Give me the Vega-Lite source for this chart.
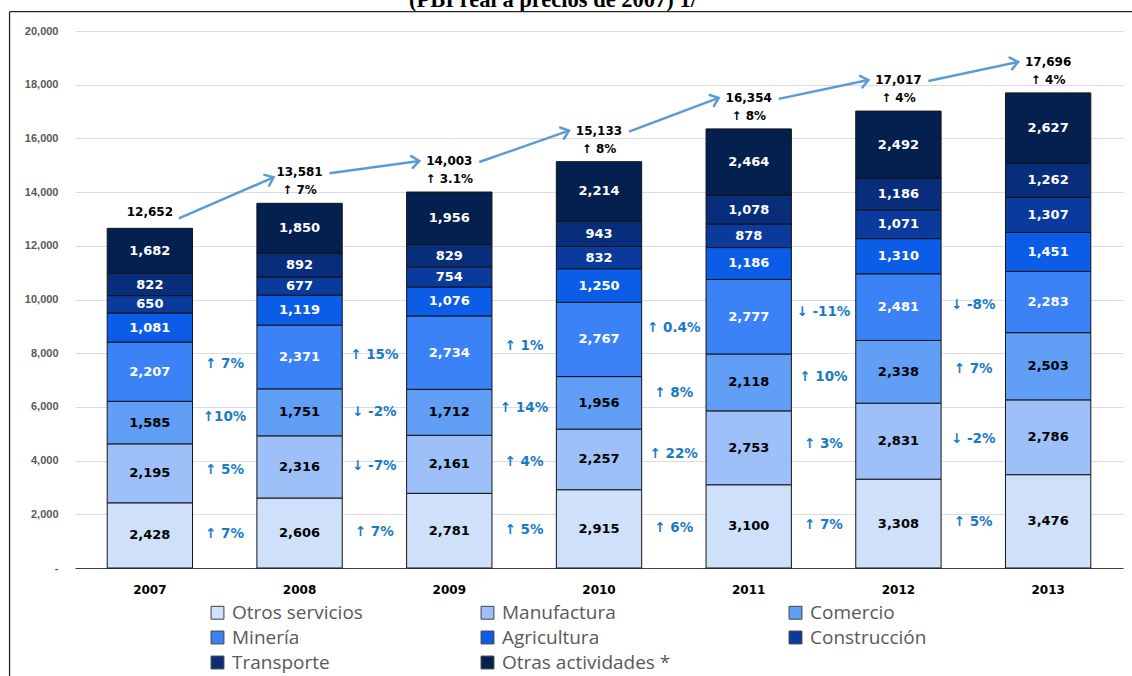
{
  "$schema": "https://vega.github.io/schema/vega-lite/v6.json",
  "autosize": {"type": "none"},
  "width": 1048,
  "height": 537,
  "padding": {"left": 75, "top": 31, "right": 9, "bottom": 108},
  "background": "white",
  "config": {"view": {"stroke": null}},
  "datasets": {
    "sectors": [
      {"year": "2007", "sector": "Otros servicios", "value": 2428},
      {"year": "2007", "sector": "Manufactura", "value": 2195},
      {"year": "2007", "sector": "Comercio", "value": 1585},
      {"year": "2007", "sector": "Minería", "value": 2207},
      {"year": "2007", "sector": "Agricultura", "value": 1081},
      {"year": "2007", "sector": "Construcción", "value": 650},
      {"year": "2007", "sector": "Transporte", "value": 822},
      {"year": "2007", "sector": "Otras actividades *", "value": 1682},
      {"year": "2008", "sector": "Otros servicios", "value": 2606, "growth": "↑ 7%"},
      {"year": "2008", "sector": "Manufactura", "value": 2316, "growth": "↑ 5%"},
      {"year": "2008", "sector": "Comercio", "value": 1751, "growth": "↑10%"},
      {"year": "2008", "sector": "Minería", "value": 2371, "growth": "↑ 7%"},
      {"year": "2008", "sector": "Agricultura", "value": 1119},
      {"year": "2008", "sector": "Construcción", "value": 677},
      {"year": "2008", "sector": "Transporte", "value": 892},
      {"year": "2008", "sector": "Otras actividades *", "value": 1850},
      {"year": "2009", "sector": "Otros servicios", "value": 2781, "growth": "↑ 7%"},
      {"year": "2009", "sector": "Manufactura", "value": 2161, "growth": "↓ -7%"},
      {"year": "2009", "sector": "Comercio", "value": 1712, "growth": "↓ -2%"},
      {"year": "2009", "sector": "Minería", "value": 2734, "growth": "↑ 15%"},
      {"year": "2009", "sector": "Agricultura", "value": 1076},
      {"year": "2009", "sector": "Construcción", "value": 754},
      {"year": "2009", "sector": "Transporte", "value": 829},
      {"year": "2009", "sector": "Otras actividades *", "value": 1956},
      {"year": "2010", "sector": "Otros servicios", "value": 2915, "growth": "↑ 5%"},
      {"year": "2010", "sector": "Manufactura", "value": 2257, "growth": "↑ 4%"},
      {"year": "2010", "sector": "Comercio", "value": 1956, "growth": "↑ 14%"},
      {"year": "2010", "sector": "Minería", "value": 2767, "growth": "↑ 1%"},
      {"year": "2010", "sector": "Agricultura", "value": 1250},
      {"year": "2010", "sector": "Construcción", "value": 832},
      {"year": "2010", "sector": "Transporte", "value": 943},
      {"year": "2010", "sector": "Otras actividades *", "value": 2214},
      {"year": "2011", "sector": "Otros servicios", "value": 3100, "growth": "↑ 6%"},
      {"year": "2011", "sector": "Manufactura", "value": 2753, "growth": "↑ 22%"},
      {"year": "2011", "sector": "Comercio", "value": 2118, "growth": "↑ 8%"},
      {"year": "2011", "sector": "Minería", "value": 2777, "growth": "↑ 0.4%"},
      {"year": "2011", "sector": "Agricultura", "value": 1186},
      {"year": "2011", "sector": "Construcción", "value": 878},
      {"year": "2011", "sector": "Transporte", "value": 1078},
      {"year": "2011", "sector": "Otras actividades *", "value": 2464},
      {"year": "2012", "sector": "Otros servicios", "value": 3308, "growth": "↑ 7%"},
      {"year": "2012", "sector": "Manufactura", "value": 2831, "growth": "↑ 3%"},
      {"year": "2012", "sector": "Comercio", "value": 2338, "growth": "↑ 10%"},
      {"year": "2012", "sector": "Minería", "value": 2481, "growth": "↓ -11%"},
      {"year": "2012", "sector": "Agricultura", "value": 1310},
      {"year": "2012", "sector": "Construcción", "value": 1071},
      {"year": "2012", "sector": "Transporte", "value": 1186},
      {"year": "2012", "sector": "Otras actividades *", "value": 2492},
      {"year": "2013", "sector": "Otros servicios", "value": 3476, "growth": "↑ 5%"},
      {"year": "2013", "sector": "Manufactura", "value": 2786, "growth": "↓ -2%"},
      {"year": "2013", "sector": "Comercio", "value": 2503, "growth": "↑ 7%"},
      {"year": "2013", "sector": "Minería", "value": 2283, "growth": "↓ -8%"},
      {"year": "2013", "sector": "Agricultura", "value": 1451},
      {"year": "2013", "sector": "Construcción", "value": 1307},
      {"year": "2013", "sector": "Transporte", "value": 1262},
      {"year": "2013", "sector": "Otras actividades *", "value": 2627}
    ],
    "totals": [
      {"year": "2007", "total": 12652},
      {"year": "2008", "total": 13581, "growth": "↑ 7%"},
      {"year": "2009", "total": 14003, "growth": "↑ 3.1%"},
      {"year": "2010", "total": 15133, "growth": "↑ 8%"},
      {"year": "2011", "total": 16354, "growth": "↑ 8%"},
      {"year": "2012", "total": 17017, "growth": "↑ 4%"},
      {"year": "2013", "total": 17696, "growth": "↑ 4%"}
    ]
  },
  "layer": [
    {
      "data": {"name": "sectors"},
      "transform": [
        {"calculate": "indexof(['Otros servicios','Manufactura','Comercio','Minería','Agricultura','Construcción','Transporte','Otras actividades *'], datum.sector)", "as": "k"},
        {"stack": "value", "groupby": ["year"], "sort": [{"field": "k", "order": "ascending"}], "as": ["v0", "v1"]}
      ],
      "mark": {"type": "bar", "stroke": "#141414", "strokeWidth": 1},
      "encoding": {
        "x": {"field": "year", "type": "nominal", "scale": {"paddingInner": 0.43, "paddingOuter": 0.215},
          "axis": {"title": null, "domain": true, "domainColor": "#404040", "domainWidth": 1.2, "ticks": false, "grid": false, "labelAngle": 0, "labelFont": "DejaVu Sans", "labelFontSize": 12, "labelFontWeight": "bold", "labelColor": "black", "labelPadding": 16}},
        "y": {"field": "v1", "type": "quantitative", "scale": {"domain": [0, 20000], "nice": false},
          "axis": {"title": null, "values": [0, 2000, 4000, 6000, 8000, 10000, 12000, 14000, 16000, 18000, 20000], "domain": false, "ticks": false, "grid": true, "gridColor": "#dcdcdc", "gridWidth": 1.2, "labelFont": "Liberation Sans", "labelFontSize": 11, "labelFontWeight": "bold", "labelColor": "#595959", "labelPadding": 17, "labelExpr": "datum.value == 0 ? '-' : format(datum.value, ',')"}},
        "y2": {"field": "v0"},
        "color": {"field": "sector", "type": "nominal",
          "scale": {"domain": ["Otros servicios", "Manufactura", "Comercio", "Minería", "Agricultura", "Construcción", "Transporte", "Otras actividades *"],
                    "range": ["#cfe0fb", "#9dc0f9", "#619ef6", "#3a82f6", "#0b5ce6", "#0a3a9c", "#082d7a", "#03204f"]},
          "legend": {"title": null, "orient": "none", "legendX": 133, "legendY": 572, "direction": "horizontal", "columns": 3, "columnPadding": 115, "rowPadding": 5, "symbolType": "square", "symbolSize": 165, "symbolStrokeColor": "#404040", "symbolStrokeWidth": 1, "labelFont": "Open Sans", "labelFontSize": 19, "labelColor": "#595959", "labelLimit": 300, "labelOffset": 5, "padding": 0}}
      }
    },
    {
      "data": {"name": "sectors"},
      "transform": [
        {"calculate": "indexof(['Otros servicios','Manufactura','Comercio','Minería','Agricultura','Construcción','Transporte','Otras actividades *'], datum.sector)", "as": "k"},
        {"stack": "value", "groupby": ["year"], "sort": [{"field": "k", "order": "ascending"}], "as": ["v0", "v1"]},
        {"calculate": "(datum.v0 + datum.v1) / 2", "as": "mid"}
      ],
      "mark": {"type": "text", "font": "DejaVu Sans", "fontSize": 13, "fontWeight": "bold", "baseline": "middle", "align": "center"},
      "encoding": {
        "x": {"field": "year", "type": "nominal"},
        "y": {"field": "mid", "type": "quantitative"},
        "text": {"field": "value", "type": "quantitative", "format": ","},
        "color": {"condition": {"test": "datum.k < 3", "value": "#000000"}, "value": "#ffffff"}
      }
    },
    {
      "data": {"name": "sectors"},
      "transform": [
        {"calculate": "indexof(['Otros servicios','Manufactura','Comercio','Minería','Agricultura','Construcción','Transporte','Otras actividades *'], datum.sector)", "as": "k"},
        {"stack": "value", "groupby": ["year"], "sort": [{"field": "k", "order": "ascending"}], "as": ["v0", "v1"]},
        {"calculate": "(datum.v0 + datum.v1) / 2", "as": "mid"},
        {"window": [{"op": "lag", "field": "mid", "as": "prevMid"}], "groupby": ["sector"], "sort": [{"field": "year", "order": "ascending"}]},
        {"filter": "datum.growth != null"},
        {"calculate": "(datum.mid + datum.prevMid) / 2", "as": "gy"}
      ],
      "mark": {"type": "text", "font": "DejaVu Sans", "fontSize": 13.5, "fontWeight": "bold", "baseline": "middle", "align": "center", "dx": -75, "color": "#1b7ac6"},
      "encoding": {
        "x": {"field": "year", "type": "nominal"},
        "y": {"field": "gy", "type": "quantitative"},
        "text": {"field": "growth", "type": "nominal"}
      }
    },
    {
      "data": {"name": "totals"},
      "transform": [{"filter": "datum.year != '2007'"}],
      "mark": {"type": "text", "font": "DejaVu Sans", "fontSize": 12, "fontWeight": "bold", "baseline": "middle", "align": "center", "dy": -31, "color": "#000000"},
      "encoding": {
        "x": {"field": "year", "type": "nominal"},
        "y": {"field": "total", "type": "quantitative"},
        "text": {"field": "total", "type": "quantitative", "format": ","}
      }
    },
    {
      "data": {"name": "totals"},
      "transform": [{"filter": "datum.year != '2007'"}],
      "mark": {"type": "text", "font": "DejaVu Sans", "fontSize": 12, "fontWeight": "bold", "baseline": "middle", "align": "center", "dy": -13, "color": "#000000"},
      "encoding": {
        "x": {"field": "year", "type": "nominal"},
        "y": {"field": "total", "type": "quantitative"},
        "text": {"field": "growth", "type": "nominal"}
      }
    },
    {
      "data": {"name": "totals"},
      "transform": [{"filter": "datum.year == '2007'"}],
      "mark": {"type": "text", "font": "DejaVu Sans", "fontSize": 12, "fontWeight": "bold", "baseline": "middle", "align": "center", "dy": -16, "color": "#000000"},
      "encoding": {
        "x": {"field": "year", "type": "nominal"},
        "y": {"field": "total", "type": "quantitative"},
        "text": {"field": "total", "type": "quantitative", "format": ","}
      }
    },
    {
      "data": {"name": "totals"},
      "transform": [
        {"window": [{"op": "lead", "field": "total", "as": "nextTotal"}, {"op": "lead", "field": "year", "as": "nextYear"}], "sort": [{"field": "year", "order": "ascending"}]},
        {"filter": "datum.nextYear != null && datum.year != '2007'"}
      ],
      "mark": {"type": "rule", "color": "#5b9bd5", "strokeWidth": 2.5, "xOffset": 30, "x2Offset": -30, "yOffset": -30, "y2Offset": -31},
      "encoding": {
        "x": {"field": "year", "type": "nominal"},
        "x2": {"field": "nextYear"},
        "y": {"field": "total", "type": "quantitative"},
        "y2": {"field": "nextTotal"}
      }
    },
    {
      "data": {"name": "totals"},
      "transform": [
        {"window": [{"op": "lead", "field": "total", "as": "nextTotal"}, {"op": "lead", "field": "year", "as": "nextYear"}], "sort": [{"field": "year", "order": "ascending"}]},
        {"filter": "datum.year == '2007'"}
      ],
      "mark": {"type": "rule", "color": "#5b9bd5", "strokeWidth": 2.5, "xOffset": 29, "x2Offset": -26, "yOffset": -10, "y2Offset": -26},
      "encoding": {
        "x": {"field": "year", "type": "nominal"},
        "x2": {"field": "nextYear"},
        "y": {"field": "total", "type": "quantitative"},
        "y2": {"field": "nextTotal"}
      }
    },
    {
      "data": {"name": "totals"},
      "transform": [
        {"window": [{"op": "lead", "field": "total", "as": "nextTotal"}, {"op": "lead", "field": "year", "as": "nextYear"}], "sort": [{"field": "year", "order": "ascending"}]},
        {"filter": "datum.nextYear != null && datum.year != '2007'"},
        {"calculate": "atan2(-(datum.nextTotal - datum.total) * 0.02685 - 1, 89.7) * 180 / PI", "as": "ang"}
      ],
      "mark": {"type": "point", "shape": "M-1,-0.8L0,0L-1,0.8", "filled": false, "stroke": "#5b9bd5", "strokeWidth": 2.5, "size": 220, "opacity": 1, "xOffset": -30, "yOffset": -31, "strokeCap": "round"},
      "encoding": {
        "x": {"field": "nextYear", "type": "nominal"},
        "y": {"field": "nextTotal", "type": "quantitative"},
        "angle": {"field": "ang", "type": "quantitative", "scale": null}
      }
    },
    {
      "data": {"name": "totals"},
      "transform": [
        {"window": [{"op": "lead", "field": "total", "as": "nextTotal"}, {"op": "lead", "field": "year", "as": "nextYear"}], "sort": [{"field": "year", "order": "ascending"}]},
        {"filter": "datum.year == '2007'"},
        {"calculate": "atan2(-(datum.nextTotal - datum.total) * 0.02685 - 16, 94.7) * 180 / PI", "as": "ang"}
      ],
      "mark": {"type": "point", "shape": "M-1,-0.8L0,0L-1,0.8", "filled": false, "stroke": "#5b9bd5", "strokeWidth": 2.5, "size": 220, "opacity": 1, "xOffset": -26, "yOffset": -26, "strokeCap": "round"},
      "encoding": {
        "x": {"field": "nextYear", "type": "nominal"},
        "y": {"field": "nextTotal", "type": "quantitative"},
        "angle": {"field": "ang", "type": "quantitative", "scale": null}
      }
    },
    {
      "data": {"values": [{"label": "(PBI real a precios de 2007) 1/"}]},
      "mark": {"type": "text", "font": "Liberation Serif", "fontSize": 22.5, "fontWeight": "bold", "baseline": "alphabetic", "align": "center", "dx": -46, "color": "#000000", "clip": false},
      "encoding": {
        "x": {"datum": "2010", "type": "nominal"},
        "y": {"datum": 20912, "type": "quantitative"},
        "text": {"field": "label", "type": "nominal"}
      }
    },
    {
      "data": {"values": [{"part": "frame"}]},
      "mark": {"type": "rule", "color": "#262626", "strokeWidth": 1.3, "xOffset": -140.3, "x2Offset": 86, "clip": false},
      "encoding": {
        "x": {"datum": "2007", "type": "nominal"},
        "x2": {"datum": "2013"},
        "y": {"datum": 20720, "type": "quantitative"}
      }
    },
    {
      "data": {"values": [{"part": "frame"}]},
      "mark": {"type": "rule", "color": "#262626", "strokeWidth": 1.3, "xOffset": -140.3, "clip": false},
      "encoding": {
        "x": {"datum": "2007", "type": "nominal"},
        "y": {"datum": 20720, "type": "quantitative"},
        "y2": {"datum": -4200}
      }
    }
  ]
}
